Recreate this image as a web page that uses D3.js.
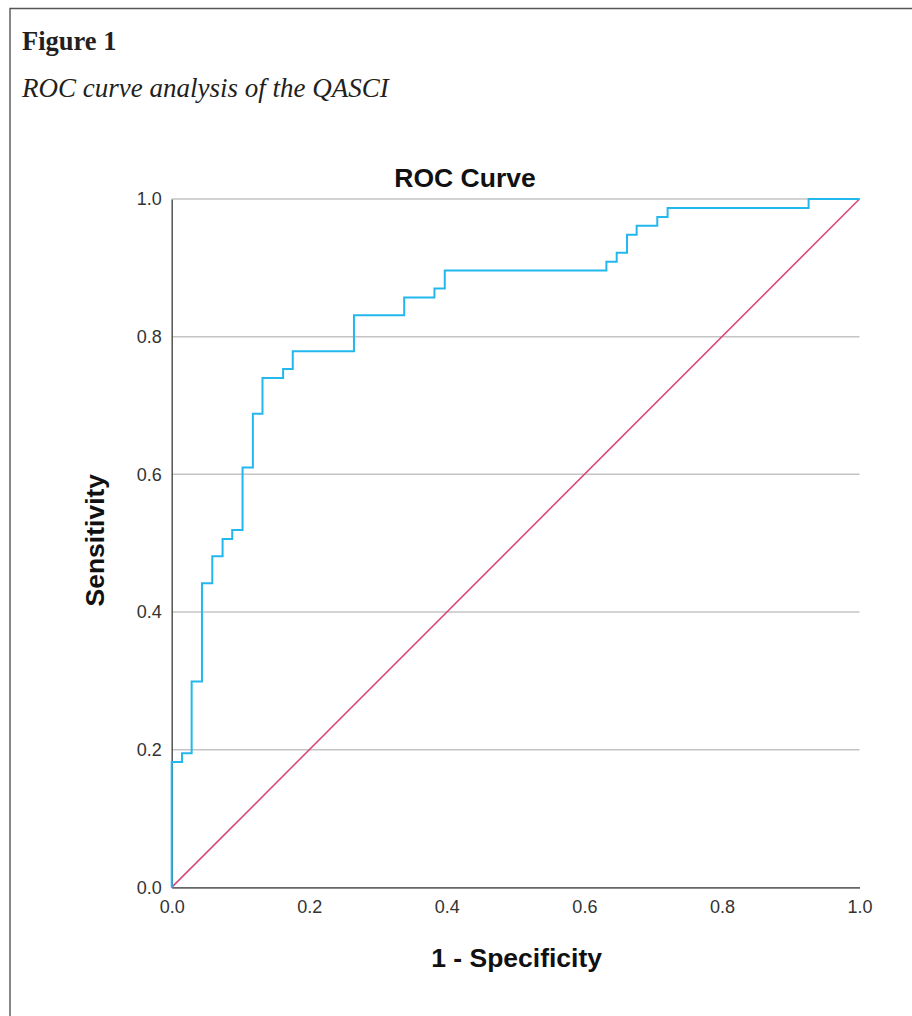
<!DOCTYPE html>
<html>
<head>
<meta charset="utf-8">
<script src="https://cdn.jsdelivr.net/npm/d3@7"></script>
<style>
  html, body { margin: 0; padding: 0; background: #fff; }
  svg { display: block; }
</style>
</head>
<body>
<svg id="chart" width="912" height="1016"></svg>
<script>
// ---- data ----
const figureLabel = "Figure 1";
const figureCaption = "ROC curve analysis of the QASCI";
const chartTitle = "ROC Curve";
const xTitle = "1 - Specificity";
const yTitle = "Sensitivity";
const tickValues = [0, 0.2, 0.4, 0.6, 0.8, 1.0];
// ROC step points (1 - specificity, sensitivity), drawn with step-after
const rocFpr = [0, 0, 0.015, 0.029, 0.044, 0.059, 0.074, 0.088, 0.103, 0.118, 0.132, 0.162, 0.176,
                0.265, 0.338, 0.382, 0.397, 0.632, 0.647, 0.662, 0.676, 0.706, 0.721, 0.926, 1.0];
const rocSens = [0, 0.182, 0.195, 0.299, 0.442, 0.481, 0.506, 0.519, 0.610, 0.688, 0.740, 0.753, 0.779,
                 0.831, 0.857, 0.870, 0.896, 0.909, 0.922, 0.948, 0.961, 0.974, 0.987, 1.0, 1.0];
const refX = [0, 1];
const refY = [0, 1];

// ---- layout ----
const svg = d3.select("#chart");
const plot = { left: 171.7, right: 859.5, top: 199, bottom: 887.4 };

svg.append("rect").attr("width", 912).attr("height", 1016).attr("fill", "#fff");

// figure frame (left + top)
svg.append("path")
  .attr("d", "M10,1016 L10,8.5 L912,8.5")
  .attr("fill", "none").attr("stroke", "#555").attr("stroke-width", 1.4);

svg.append("text")
  .attr("x", 22).attr("y", 50)
  .attr("font-family", "'Liberation Serif', 'DejaVu Serif', serif")
  .attr("font-weight", "bold").attr("font-size", 26.5).attr("fill", "#231f20")
  .text(figureLabel);

svg.append("text")
  .attr("x", 22).attr("y", 97)
  .attr("font-family", "'Liberation Serif', 'DejaVu Serif', serif")
  .attr("font-style", "italic").attr("font-size", 27).attr("fill", "#231f20")
  .text(figureCaption);

const x = d3.scaleLinear().domain([0, 1]).range([plot.left, plot.right]);
const y = d3.scaleLinear().domain([0, 1]).range([plot.bottom, plot.top]);

// grid lines
svg.append("g").selectAll("line")
  .data(tickValues.filter(d => d > 0))
  .join("line")
  .attr("x1", x(0)).attr("x2", x(1))
  .attr("y1", d => y(d)).attr("y2", d => y(d))
  .attr("stroke", "#c4c4c4").attr("stroke-width", 1.5);

// axes
const fmt = d3.format(".1f");
const xAxis = svg.append("g")
  .attr("transform", `translate(0,${plot.bottom})`)
  .call(d3.axisBottom(x).tickValues(tickValues).tickFormat(fmt).tickSize(0).tickPadding(13));
const yAxis = svg.append("g")
  .attr("transform", `translate(${plot.left},0)`)
  .call(d3.axisLeft(y).tickValues(tickValues).tickFormat(fmt).tickSize(0).tickPadding(10));

[xAxis, yAxis].forEach(g => {
  g.selectAll("text")
    .attr("font-family", "'Liberation Sans', Arial, sans-serif")
    .attr("font-size", 18).attr("fill", "#333");
});
xAxis.select(".domain").attr("stroke", "#666").attr("stroke-width", 1.8);
yAxis.select(".domain").attr("stroke", "#555").attr("stroke-width", 1.5);

// reference diagonal
svg.append("path")
  .datum(refX.map((v, i) => [v, refY[i]]))
  .attr("d", d3.line().x(d => x(d[0])).y(d => y(d[1])))
  .attr("fill", "none").attr("stroke", "#d9487a").attr("stroke-width", 1.6);

// ROC curve
svg.append("path")
  .datum(rocFpr.map((v, i) => [v, rocSens[i]]))
  .attr("d", d3.line().curve(d3.curveStepAfter).x(d => x(d[0])).y(d => y(d[1])))
  .attr("fill", "none").attr("stroke", "#22b8ee").attr("stroke-width", 2);

// titles
svg.append("text")
  .attr("x", 465).attr("y", 187)
  .attr("text-anchor", "middle")
  .attr("font-family", "'Liberation Sans', Arial, sans-serif")
  .attr("font-weight", "bold").attr("font-size", 26.5).attr("fill", "#111")
  .text(chartTitle);

svg.append("text")
  .attr("x", (plot.left + plot.right) / 2 + 1).attr("y", 967)
  .attr("text-anchor", "middle")
  .attr("font-family", "'Liberation Sans', Arial, sans-serif")
  .attr("font-weight", "bold").attr("font-size", 26.5).attr("fill", "#111")
  .text(xTitle);

svg.append("text")
  .attr("transform", `translate(104,${(plot.top + plot.bottom) / 2 - 3}) rotate(-90)`)
  .attr("text-anchor", "middle")
  .attr("font-family", "'Liberation Sans', Arial, sans-serif")
  .attr("font-weight", "bold").attr("font-size", 26.5).attr("fill", "#111")
  .text(yTitle);
</script>
</body>
</html>
